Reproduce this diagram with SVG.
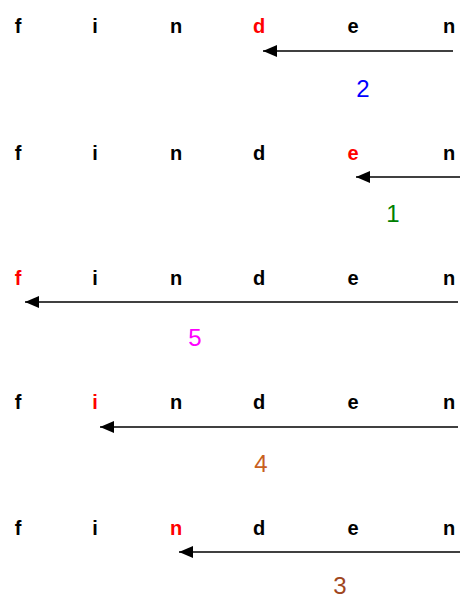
<svg xmlns="http://www.w3.org/2000/svg" width="460" height="599" viewBox="0 0 460 599">
<style>
.l{font-family:"Liberation Sans",Arial,sans-serif;font-size:20px;font-weight:bold;fill:#000;text-anchor:middle}
.r{fill:#FF0000}
.d{font-family:"Liberation Sans",Arial,sans-serif;font-size:24px;text-anchor:middle}
.a{stroke:#000;stroke-width:1.6;fill:none;marker-end:url(#ah)}
</style>
<defs>
<marker id="ah" markerUnits="userSpaceOnUse" markerWidth="14" markerHeight="12" refX="14" refY="6" orient="auto">
<path d="M0,0 L14,6 L0,12 Z" fill="#000"/>
</marker>
</defs>
<rect width="460" height="599" fill="#fff"/>
<g id="row1">
<text class="l" x="18" y="33">f</text><text class="l" x="95" y="33">i</text><text class="l" x="176" y="33">n</text><text class="l r" x="259" y="33">d</text><text class="l" x="353" y="33">e</text><text class="l" x="449" y="33">n</text>
</g>
<g id="row2">
<text class="l" x="18" y="160">f</text><text class="l" x="95" y="160">i</text><text class="l" x="176" y="160">n</text><text class="l" x="259" y="160">d</text><text class="l r" x="353" y="160">e</text><text class="l" x="449" y="160">n</text>
</g>
<g id="row3">
<text class="l r" x="18" y="285">f</text><text class="l" x="95" y="285">i</text><text class="l" x="176" y="285">n</text><text class="l" x="259" y="285">d</text><text class="l" x="353" y="285">e</text><text class="l" x="449" y="285">n</text>
</g>
<g id="row4">
<text class="l" x="18" y="409">f</text><text class="l r" x="95" y="409">i</text><text class="l" x="176" y="409">n</text><text class="l" x="259" y="409">d</text><text class="l" x="353" y="409">e</text><text class="l" x="449" y="409">n</text>
</g>
<g id="row5">
<text class="l" x="18" y="535">f</text><text class="l" x="95" y="535">i</text><text class="l r" x="176" y="535">n</text><text class="l" x="259" y="535">d</text><text class="l" x="353" y="535">e</text><text class="l" x="449" y="535">n</text>
</g>
<g id="connectors">
<line class="a" x1="453" y1="51" x2="263" y2="51"/>
<line class="a" x1="460" y1="177" x2="356" y2="177"/>
<line class="a" x1="458" y1="302" x2="25" y2="302"/>
<line class="a" x1="458" y1="427" x2="100" y2="427"/>
<line class="a" x1="460" y1="552" x2="179" y2="552"/>
</g>
<g id="labels">
<text class="d" x="363" y="97" fill="#0000FF">2</text>
<text class="d" x="393" y="222" fill="#008000">1</text>
<text class="d" x="195" y="346" fill="#FF00FF">5</text>
<text class="d" x="261" y="472" fill="#C8601E">4</text>
<text class="d" x="340" y="594" fill="#A0461E">3</text>
</g>
</svg>
